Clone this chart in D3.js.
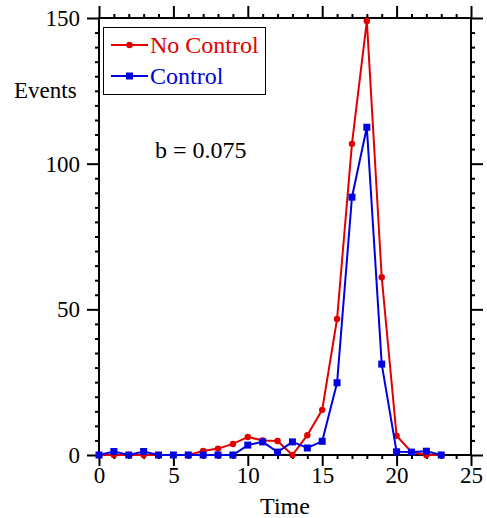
<!DOCTYPE html>
<html>
<head>
<meta charset="utf-8">
<script src="https://cdn.jsdelivr.net/npm/d3@7"></script>
<style>
  html, body { margin: 0; padding: 0; background: #fff; }
  svg { display: block; }
</style>
</head>
<body>
<svg id="chart" width="487" height="518"></svg>
<script>
// Time steps and event counts for both runs
const time = d3.range(0, 24);
const noControl = [0, 0, 0, 0, 0, 0, 0, 1.4, 2.2, 3.8, 6.2, 5.0, 4.8, 0, 6.8, 15.5, 46.7, 106.8, 149, 61, 6.6, 1.0, 0, 0];
const control   = [0, 1.2, 0, 1.2, 0, 0, 0, 0, 0, 0, 3.4, 4.5, 1.0, 4.5, 2.4, 4.7, 24.8, 88.5, 112.5, 31.2, 1.1, 1.0, 1.3, 0];

const xMajor = [0, 5, 10, 15, 20, 25];
const yMajor = [0, 50, 100, 150];
const seriesNames = ["No Control", "Control"];
const annotation = "b = 0.075";
const xTitle = "Time";
const yTitle = "Events";

const RED = "#e00000", BLUE = "#0000e0";
const SERIF = "Liberation Serif, Times New Roman, serif";

const svg = d3.select("#chart").attr("font-family", SERIF);
const plotL = 99, plotR = 471, plotT = 18, plotB = 455;

const x = d3.scaleLinear().domain([0, 25]).range([plotL, plotR]);
const y = d3.scaleLinear().domain([0, 150]).range([plotB, plotT]);

const xMinor = d3.range(0, 26).filter(v => v % 5 !== 0);
const yMinor = d3.range(0, 151, 5).filter(v => v % 50 !== 0);

function styleAxis(g) {
  g.attr("font-family", SERIF).attr("font-size", 23);
  g.select(".domain").remove();
  g.selectAll("line").attr("stroke", "#000").attr("stroke-width", 2);
  g.selectAll("text").attr("fill", "#000").attr("font-family", SERIF).attr("font-size", 23);
}

// bottom axis: labelled majors + minor ticks
svg.append("g").attr("transform", `translate(0,${plotB})`)
  .call(d3.axisBottom(x).tickValues(xMajor).tickSize(11).tickPadding(1).tickFormat(d3.format("d")))
  .call(styleAxis);
svg.append("g").attr("transform", `translate(0,${plotB})`)
  .call(d3.axisBottom(x).tickValues(xMinor).tickSize(4).tickFormat(""))
  .call(styleAxis);
// top axis (ticks only)
svg.append("g").attr("transform", `translate(0,${plotT})`)
  .call(d3.axisTop(x).tickValues(xMajor).tickSize(12).tickFormat(""))
  .call(styleAxis);
svg.append("g").attr("transform", `translate(0,${plotT})`)
  .call(d3.axisTop(x).tickValues(xMinor).tickSize(4).tickFormat(""))
  .call(styleAxis);
// left axis
svg.append("g").attr("transform", `translate(${plotL},0)`)
  .call(d3.axisLeft(y).tickValues(yMajor).tickSize(12).tickPadding(7).tickFormat(d3.format("d")))
  .call(styleAxis);
svg.append("g").attr("transform", `translate(${plotL},0)`)
  .call(d3.axisLeft(y).tickValues(yMinor).tickSize(4).tickFormat(""))
  .call(styleAxis);
// right axis
svg.append("g").attr("transform", `translate(${plotR},0)`)
  .call(d3.axisRight(y).tickValues(yMajor).tickSize(12).tickFormat(""))
  .call(styleAxis);
svg.append("g").attr("transform", `translate(${plotR},0)`)
  .call(d3.axisRight(y).tickValues(yMinor).tickSize(4).tickFormat(""))
  .call(styleAxis);

// plot frame
svg.append("rect")
  .attr("x", plotL).attr("y", plotT)
  .attr("width", plotR - plotL).attr("height", plotB - plotT)
  .attr("fill", "none").attr("stroke", "#000").attr("stroke-width", 2);

// series lines and markers
const line = d3.line().x((d, i) => x(time[i])).y(d => y(d));

svg.append("path").datum(noControl)
  .attr("d", line).attr("fill", "none").attr("stroke", RED).attr("stroke-width", 2);
svg.append("g").selectAll("circle").data(noControl).join("circle")
  .attr("cx", (d, i) => x(time[i])).attr("cy", d => y(d)).attr("r", 3.2).attr("fill", RED);

svg.append("path").datum(control)
  .attr("d", line).attr("fill", "none").attr("stroke", BLUE).attr("stroke-width", 2);
svg.append("g").selectAll("rect").data(control).join("rect")
  .attr("x", (d, i) => x(time[i]) - 3.5).attr("y", d => y(d) - 3.5)
  .attr("width", 7).attr("height", 7).attr("fill", BLUE);

// legend
const legend = svg.append("g");
legend.append("rect").attr("x", 103.5).attr("y", 27.5).attr("width", 162).attr("height", 67)
  .attr("fill", "#fff").attr("stroke", "#000").attr("stroke-width", 1);
const legendRows = [
  { name: seriesNames[0], color: RED, y: 45, marker: "circle" },
  { name: seriesNames[1], color: BLUE, y: 76, marker: "square" }
];
legendRows.forEach(r => {
  legend.append("line").attr("x1", 111).attr("x2", 148).attr("y1", r.y).attr("y2", r.y)
    .attr("stroke", r.color).attr("stroke-width", 2);
  if (r.marker === "circle") {
    legend.append("circle").attr("cx", 129.5).attr("cy", r.y).attr("r", 3.2).attr("fill", r.color);
  } else {
    legend.append("rect").attr("x", 126).attr("y", r.y - 3.5).attr("width", 7).attr("height", 7).attr("fill", r.color);
  }
  legend.append("text").attr("x", 150).attr("y", r.y + 8).attr("fill", r.color)
    .attr("font-family", SERIF).attr("font-size", 24).text(r.name);
});

// annotation and axis titles
svg.append("text").attr("x", 155).attr("y", 158).attr("font-family", SERIF).attr("font-size", 24).text(annotation);
svg.append("text").attr("x", 285).attr("y", 514).attr("text-anchor", "middle")
  .attr("font-family", SERIF).attr("font-size", 24).text(xTitle);
svg.append("text").attr("x", 14).attr("y", 98).attr("font-family", SERIF).attr("font-size", 23).text(yTitle);
</script>
</body>
</html>
